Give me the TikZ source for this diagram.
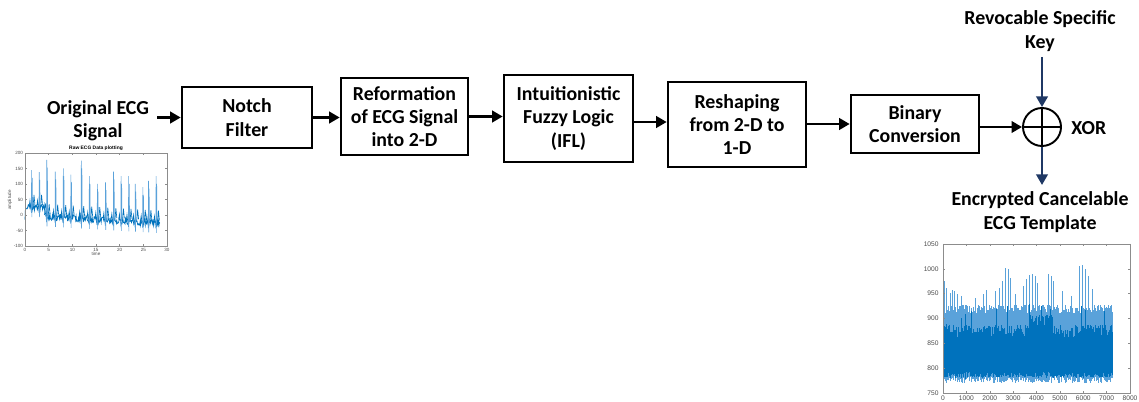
\documentclass[tikz,border=0pt]{standalone}
\usepackage{fontspec}
\setmainfont{Carlito}
\newfontfamily\plotfont{Liberation Sans}
\usetikzlibrary{arrows.meta,calc}
\definecolor{navy}{HTML}{1F3864}
\definecolor{mblue}{HTML}{0072BD}
\definecolor{lblue}{HTML}{5AA2DA}
\definecolor{axgray}{HTML}{8C8C8C}
\begin{document}
\begin{tikzpicture}[x=0.02cm,y=-0.02cm,
  declare function={ecgb(\t)=(\t<4.6)*25+(\t>=4.6)*(-5-0.9*(\t-4.6));},
  stage/.style={draw, line width=1.5pt, align=center, inner sep=0pt,
    font=\fontsize{11.3}{13.3}\selectfont\bfseries},
  lbl/.style={align=center, inner sep=0pt, font=\fontsize{11.3}{13.3}\selectfont\bfseries},
  arr/.style={line width=1.7pt, -{Triangle[length=6pt,width=6.5pt]}},
  karr/.style={navy, line width=1.3pt, -{Triangle[length=6pt,width=6.5pt]}},
  tinyl/.style={inner sep=0.4pt, font=\plotfont\fontsize{2.6}{3}\selectfont, text=black!70},
  smalll/.style={inner sep=0.6pt, font=\plotfont\fontsize{3.8}{4}\selectfont, text=black!70},
  axis/.style={axgray, line width=0.25pt}]
\useasboundingbox (0,0) rectangle (1139,402);

% ---- stages
\node[stage, minimum width=2.6cm, minimum height=1.22cm] (notch) at (247,117.5) {Notch\\Filter};
\node[stage, minimum width=2.54cm, minimum height=1.54cm] (reform) at (404.5,116.5) {Reformation\\of ECG Signal\\into 2-D};
\node[stage, minimum width=2.58cm, minimum height=1.74cm] (intui) at (568.5,118.5) {Intuitionistic\\Fuzzy Logic\\(IFL)};
\node[stage, minimum width=2.76cm, minimum height=1.70cm] (reshape) at (737,124.5) {Reshaping\\from 2-D to\\1-D};
\node[stage, minimum width=2.56cm, minimum height=1.16cm] (binary) at (915,124) {Binary\\Conversion};
\node[draw, circle, line width=1.1pt, minimum size=0.76cm, inner sep=0pt] (xor) at (1042,127) {};
\draw[line width=1.1pt] (xor.north) -- (xor.south) (xor.west) -- (xor.east);

% ---- labels
\node[lbl] (orig) at (98,121) {Original ECG\\Signal};
\node[lbl, anchor=west] (xorl) at (1071,128) {XOR};
\node[lbl] (key) at (1040,31) {Revocable Specific\\Key};
\node[lbl] (enc) at (1040,212) {Encrypted Cancelable\\ECG Template};

% ---- connectors
\coordinate (in) at (157,117.5);
\coordinate (keytop) at (1042,57);
\coordinate (outend) at (1042,185);
\coordinate (ie) at ($(intui.east)+(0,3.5)$);
\draw[arr] (in) -- (notch.west);
\draw[arr] (notch.east) -- (notch.east -| reform.west);
\draw[arr] (reform.east) -- (reform.east -| intui.west);
\draw[arr] (ie) -- (ie -| reshape.west);
\draw[arr] (reshape.east |- binary.west) -- (binary.west);
\draw[arr] (binary.east |- xor.west) -- (xor.west);
\draw[karr] (keytop) -- (xor.north);
\draw[karr] (xor.south) -- (outend);

% ---- left plot (raw ECG)
\node[tinyl, font=\plotfont\bfseries\fontsize{2.8}{3}\selectfont, text=black] (ltitle) at (96,148.5) {Raw ECG Data plotting};
\node[tinyl] (lxlab) at (96,254) {time};
\node[tinyl, rotate=90] (lylab) at (10,200) {amplitude};
\foreach \v in {200,150,100,50,0,-50,-100}
  \node[tinyl, anchor=east] at (24,{215-0.31*\v}) {\v};
\foreach \t in {0,5,...,30}
  \node[tinyl, anchor=north] at ({25+4.733*\t},247) {\t};
\begin{scope}[shift={(25,215)}, xscale=4.733, yscale=-0.31]
  \pgfmathsetseed{11}
  \draw[mblue, line width=0.4pt] (0,-15) \foreach \i in {1,...,285} { -- ({\i*0.1},{ecgb(\i*0.1)+11*rand}) };
  \foreach \t/\h in {1.4/145,3.0/138,4.6/178,6.4/140,8.1/150,9.7/130,11.9/175,13.6/125,15.3/100,17.0/105,18.7/140,20.3/125,21.9/125,23.3/100,24.9/90,26.1/110,27.7/125}{
    \pgfmathsetmacro\bb{ecgb(\t)}
    \draw[lblue, line width=0.35pt] (\t-0.15,\bb) -- (\t-0.05,\bb-18) -- (\t,\h) -- (\t+0.05,\bb-32) -- (\t+0.12,\h-25) -- (\t+0.2,\bb);
    \draw[mblue, line width=0.35pt] (\t-0.5,\bb+5) -- (\t-0.35,\bb+22) -- (\t-0.2,\bb);
    \draw[mblue, line width=0.35pt] (\t+0.3,\bb) -- (\t+0.5,\bb+40) -- (\t+0.7,\bb+8);
  }
  \draw[axis] (0,-100) rectangle (30,200);
  \foreach \t in {0,5,...,30} \draw[axis] (\t,-100) -- (\t,-92) (\t,200) -- (\t,192);
  \foreach \v in {-100,-50,...,200} \draw[axis] (0,\v) -- (0.35,\v) (30,\v) -- (29.65,\v);
\end{scope}

% ---- right plot (template)
\foreach \v [count=\k from 0] in {1050,1000,950,900,850,800,750}
  \node[smalll, anchor=east] at (940,{244+24.83*\k}) {\v};
\foreach \v [count=\k from 0] in {0,1000,2000,3000,4000,5000,6000,7000,8000}
  \node[smalll, anchor=north] at ({943+23.375*\k},394) {\v};
\begin{scope}[shift={(943,393)}, xscale=23.375, yscale=-0.4967]
  \pgfmathsetseed{5}
  % light band
  \foreach \i in {0,...,241}{
    \pgfmathsetmacro\x{\i*0.03}
    \pgfmathsetmacro\lo{20+14*rnd}
    \pgfmathsetmacro\hi{160+18*rnd}
    \draw[lblue, line width=0.3pt] (\x,\lo) -- (\x,\hi);
  }
  % light spikes
  \foreach \x/\h in {0.05/975,0.15/962,0.3/952,0.4/957,0.5/955,0.62/950,0.8/946,1.4/942,1.72/950,1.85/958,2.25/955,2.4/962,2.55/975,2.68/1001,2.8/999,2.9/982,3.1/950,3.45/965,3.58/980,3.7/988,3.82/990,3.95/985,4.05/972,4.5/990,4.62/985,4.72/975,5.1/955,5.5/945,5.85/1005,5.98/1008,6.08/1000,6.2/985,6.4/960}
    \draw[lblue, line width=0.35pt] (\x,120) -- (\x,\h-750);
  % dark band
  \foreach \i in {0,...,362}{
    \pgfmathsetmacro\x{\i*0.02}
    \pgfmathsetmacro\bump{(\x>3.7)*(\x<4.7)*20}
    \pgfmathsetmacro\lo{45-14*rnd}
    \pgfmathsetmacro\hi{110+28*rnd+\bump}
    \draw[mblue, line width=0.35pt] (\x,\lo) -- (\x,\hi);
  }
  \foreach \x/\l/\h in {0.8/30/150,0.95/28/160,1.2/35/165,2.3/40/170,2.75/40/175,3.7/45/180,4.2/40/175,4.6/38/170,5.9/40/175,6.1/35/168,6.9/38/165}
    \draw[mblue, line width=0.35pt] (\x,\l) -- (\x,\h);
  \draw[axis] (0,0) rectangle (8,300);
  \foreach \k in {0,...,8} \draw[axis] (\k,0) -- (\k,4) (\k,300) -- (\k,296);
  \foreach \v in {0,50,...,300} \draw[axis] (0,\v) -- (0.08,\v) (8,\v) -- (7.92,\v);
\end{scope}
\end{tikzpicture}
\end{document}
